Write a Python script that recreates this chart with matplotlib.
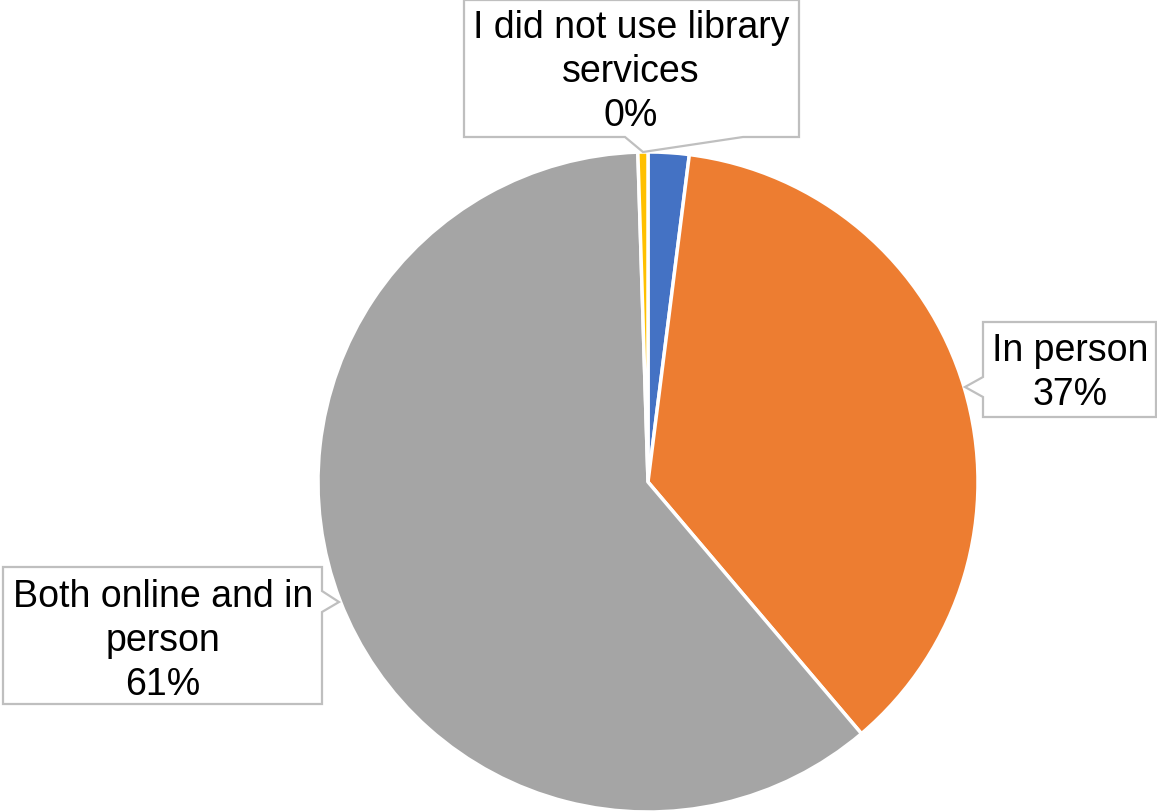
import matplotlib.pyplot as plt
from matplotlib.patches import Polygon

plt.rcParams['font.family'] = ['Liberation Sans', 'DejaVu Sans']

categories = ['Online', 'In person', 'Both online and in person', 'I did not use library services']
values = [2.0, 36.8, 60.7, 0.49]
colors = ['#4472C4', '#ED7D31', '#A5A5A5', '#FFC000']

W, H = 1157, 812
fig = plt.figure(figsize=(W / 100, H / 100), dpi=100)

# pie axes: centre (648, 483) px, radius 330 px
cx, cy, r = 648, 483, 330
ax = fig.add_axes([(cx - r) / W, (H - cy - r) / H, 2 * r / W, 2 * r / H])
ax.pie(values, colors=colors, startangle=90, counterclock=False, radius=1,
       wedgeprops=dict(edgecolor='white', linewidth=2.5))
ax.set_xlim(-1, 1)
ax.set_ylim(-1, 1)
ax.set_aspect('equal')
ax.axis('off')

# overlay in pixel coordinates for callouts
ov = fig.add_axes([0, 0, 1, 1])
ov.set_xlim(0, W)
ov.set_ylim(H, 0)
ov.axis('off')

box_style = dict(facecolor='white', edgecolor='#BFBFBF', linewidth=1.6, zorder=3)
txt_style = dict(ha='center', va='center', fontsize=27, linespacing=1.28, zorder=4)

# "I did not use library services" callout, tail down to the yellow slice
ov.add_patch(Polygon([(464, 1), (799, 1), (799, 138), (743, 138), (643, 153),
                      (625, 138), (464, 138)], closed=True, **box_style))
ov.text(631, 72, 'I did not use library\nservices\n{:.0f}%'.format(values[3]), **txt_style)

# "In person" callout, tail left
ov.add_patch(Polygon([(983, 323), (1156, 323), (1156, 418), (983, 418), (983, 398),
                      (965, 388), (983, 378)], closed=True, **box_style))
ov.text(1070, 373, '{}\n{:.0f}%'.format(categories[1], values[1]), **txt_style)

# "Both online and in person" callout, tail right
ov.add_patch(Polygon([(3, 568), (322, 568), (322, 592), (339, 603), (322, 613),
                      (322, 705), (3, 705)], closed=True, **box_style))
ov.text(163, 641, 'Both online and in\nperson\n{:.0f}%'.format(values[2]), **txt_style)

fig.savefig('out.png', dpi=100)
